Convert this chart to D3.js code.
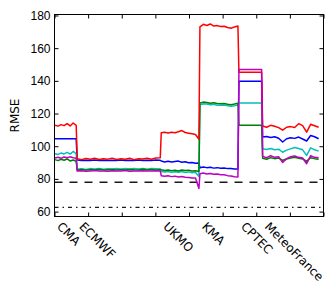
<!DOCTYPE html>
<html>
<head>
<meta charset="utf-8">
<script src="https://cdn.jsdelivr.net/npm/d3@7"></script>
<style>
  body { margin: 0; background: #fff; }
  svg { display: block; font-family: "DejaVu Sans", sans-serif; }
</style>
</head>
<body>
<div id="chart"></div>
<script>
const centers = ["CMA", "ECMWF", "UKMO", "KMA", "CPTEC", "MeteoFrance"];
const segStart = [0, 13.2, 63.2, 86.2, 109.4, 123.5];
const segEnd = [13.2, 63.2, 86.2, 109.4, 123.5, 157.4];
const yTicks = [60, 80, 100, 120, 140, 160, 180];
const xTicks = [0, 20, 40, 60, 80, 100, 120, 140, 160];
const refLevels = [78, 62.6];

const redRmse = [
  [112.8, 112.3, 113.2, 112.6, 113.8, 112.4, 114.2, 112.8],
  [92.3, 91.8, 92.5, 92.0, 92.6, 91.9, 92.4, 92.1, 92.7, 91.9, 92.3, 92.0, 92.6, 91.8, 92.4, 92.2, 92.7, 92.0, 92.8, 92.9],
  [108.3, 108.6, 108.1, 108.5, 108.3, 108.9, 109.6, 108.4, 108.0, 107.6, 107.2, 104.3],
  [173.0, 174.6, 173.9, 174.8, 173.5, 173.8, 173.2, 173.4, 172.6, 172.2, 173.0, 173.6],
  [145.3, 145.3],
  [112.4, 111.6, 112.8, 112.2, 111.4, 109.8, 111.6, 112.0, 111.5, 113.8, 112.6, 108.6, 113.4, 112.5, 111.6]
];
const blueRmse = [
  [104.5, 104.6, 104.5, 104.6, 104.5, 104.6, 104.5, 104.5],
  [91.5, 91.3, 91.4, 91.2, 91.5, 91.3, 91.4, 91.2, 91.4, 91.3, 91.5, 91.2, 91.4, 91.3, 91.5, 91.2, 91.4, 91.3, 91.5, 91.4],
  [91.0, 90.4, 90.8, 90.3, 90.6, 90.9, 90.2, 90.5, 89.9, 90.1, 89.6, 89.8],
  [86.8, 87.3, 86.9, 87.1, 86.6, 86.9, 86.5, 86.7, 86.3, 86.4, 86.0, 86.1],
  [139.8, 139.8],
  [105.6, 106.0, 105.4, 105.8, 104.9, 102.6, 104.6, 105.2, 104.8, 105.6, 104.4, 103.2, 106.6, 105.8, 104.6]
];
const cyanRmse = [
  [95.4, 95.0, 95.8, 95.3, 96.2, 95.2, 96.8, 95.5],
  [85.9, 86.2, 85.8, 86.3, 86.0, 86.4, 85.9, 86.2, 86.1, 86.4, 85.9, 86.3, 86.0, 86.4, 86.1, 86.3, 85.9, 86.4, 86.2, 86.0],
  [84.6, 84.2, 84.5, 84.0, 84.4, 84.1, 84.5, 83.9, 84.3, 83.8, 84.0, 81.5],
  [125.4, 126.0, 125.8, 125.4, 125.6, 125.1, 125.0, 125.2, 124.7, 124.4, 124.8, 125.3],
  [126.5, 126.5],
  [98.4, 98.0, 98.6, 97.8, 98.2, 96.3, 97.6, 98.4, 99.2, 98.6, 97.8, 94.4, 99.0, 97.8, 97.0]
];
const greenRmse = [
  [91.8, 91.2, 92.0, 91.4, 92.2, 91.0, 91.6, 90.8],
  [85.5, 85.8, 85.4, 85.7, 85.5, 85.9, 85.4, 85.6, 85.8, 85.5, 85.7, 85.4, 85.8, 85.6, 85.5, 85.9, 85.6, 85.7, 85.5, 85.8],
  [85.6, 85.2, 85.5, 85.0, 85.3, 84.9, 85.4, 85.1, 85.3, 84.8, 85.0, 84.6],
  [126.4, 127.0, 126.8, 126.3, 126.6, 126.1, 126.0, 126.2, 125.7, 125.4, 125.8, 126.3],
  [112.8, 112.8],
  [92.6, 92.0, 93.0, 92.4, 92.8, 91.4, 92.2, 92.8, 93.2, 92.6, 92.2, 90.8, 93.0, 92.4, 92.0]
];
const magentaRmse = [
  [92.8, 93.2, 92.6, 93.4, 92.9, 93.5, 93.0, 92.6],
  [84.8, 85.0, 84.7, 84.9, 85.1, 84.8, 84.9, 84.7, 85.0, 84.8, 84.9, 85.1, 84.7, 84.9, 84.8, 85.0, 84.8, 84.9, 85.0, 84.8],
  [82.0, 81.6, 81.9, 81.4, 81.7, 81.2, 81.5, 81.0, 80.8, 80.6, 80.5, 74.2],
  [83.2, 83.6, 83.0, 83.3, 82.8, 83.0, 82.5, 82.6, 82.0, 81.8, 81.3, 81.2],
  [147.0, 147.0],
  [93.8, 93.0, 94.2, 93.2, 93.6, 90.0, 92.4, 93.6, 94.0, 93.2, 92.8, 89.3, 94.2, 93.2, 93.0]
];

const series = [
  { values: blueRmse, color: "#0000ff" },
  { values: cyanRmse, color: "#00bfbf" },
  { values: greenRmse, color: "#008000" },
  { values: redRmse, color: "#ff0000" },
  { values: magentaRmse, color: "#bf00bf" }
];

const width = 328;
const height = 284;

const svg = d3
  .select("#chart")
  .append("svg")
  .attr("width", width)
  .attr("height", height);

const x = d3.scaleLinear().domain([0, 160]).range([54.5, 323.5]);
const y = d3.scaleLinear().domain([57, 180.6]).range([216.5, 14.5]);

// spread each center's samples over its segment
function toPoints(values) {
  let points = [];
  values.forEach((vals, i) => {
    let pad = 0.3;
    let len = segEnd[i] - segStart[i] - 2 * pad;
    vals.forEach((v, j) => {
      points.push([segStart[i] + pad + (j * len) / (vals.length - 1), v]);
    });
  });
  return points;
}

const line = d3
  .line()
  .x((d) => x(d[0]))
  .y((d) => y(d[1]));

// reference levels
svg
  .append("line")
  .attr("x1", x(0))
  .attr("x2", x(160))
  .attr("y1", y(refLevels[0]))
  .attr("y2", y(refLevels[0]))
  .attr("stroke", "#1a1a1a")
  .attr("stroke-width", 1.5)
  .attr("stroke-dasharray", "8,7");

svg
  .append("line")
  .attr("x1", x(0))
  .attr("x2", x(160))
  .attr("y1", y(refLevels[1]))
  .attr("y2", y(refLevels[1]))
  .attr("stroke", "#1a1a1a")
  .attr("stroke-width", 1.3)
  .attr("stroke-dasharray", "4,4,1.5,4");

svg
  .append("g")
  .attr("fill", "none")
  .selectAll("path")
  .data(series)
  .join("path")
  .attr("stroke", (d) => d.color)
  .attr("stroke-width", 1.5)
  .attr("stroke-linejoin", "round")
  .attr("d", (d) => line(toPoints(d.values)));

// axes with inward ticks
const leftAxis = svg
  .append("g")
  .attr("transform", `translate(${x(0)},0)`)
  .call(d3.axisLeft(y).tickValues(yTicks).tickSize(-4).tickPadding(4));
leftAxis.select(".domain").remove();
leftAxis.selectAll("text").style("font-size", "12px").attr("fill", "#000");

const rightAxis = svg
  .append("g")
  .attr("transform", `translate(${x(160)},0)`)
  .call(d3.axisRight(y).tickValues(yTicks).tickSize(-4).tickFormat(""));
rightAxis.select(".domain").remove();

const topAxis = svg
  .append("g")
  .attr("transform", `translate(0,${y(180.6)})`)
  .call(d3.axisTop(x).tickValues(xTicks).tickSize(-4).tickFormat(""));
topAxis.select(".domain").remove();

const bottomAxis = svg
  .append("g")
  .attr("transform", `translate(0,${y(57)})`)
  .call(d3.axisBottom(x).tickValues(xTicks).tickSize(-4).tickFormat(""));
bottomAxis.select(".domain").remove();

svg
  .append("rect")
  .attr("x", x(0))
  .attr("y", y(180.6))
  .attr("width", x(160) - x(0))
  .attr("height", y(57) - y(180.6))
  .attr("fill", "none")
  .attr("stroke", "#000")
  .attr("stroke-width", 1);

svg
  .append("text")
  .attr("transform", `translate(19,${(y(57) + y(180.6)) / 2}) rotate(-90)`)
  .attr("text-anchor", "middle")
  .style("font-size", "12px")
  .text("RMSE");

svg
  .append("g")
  .selectAll("text")
  .data(centers)
  .join("text")
  .attr("transform", (d, i) => `translate(${x(segStart[i]) + 8},221) rotate(45)`)
  .attr("dy", "0.73em")
  .style("font-size", "12px")
  .text((d) => d);
</script>
</body>
</html>
